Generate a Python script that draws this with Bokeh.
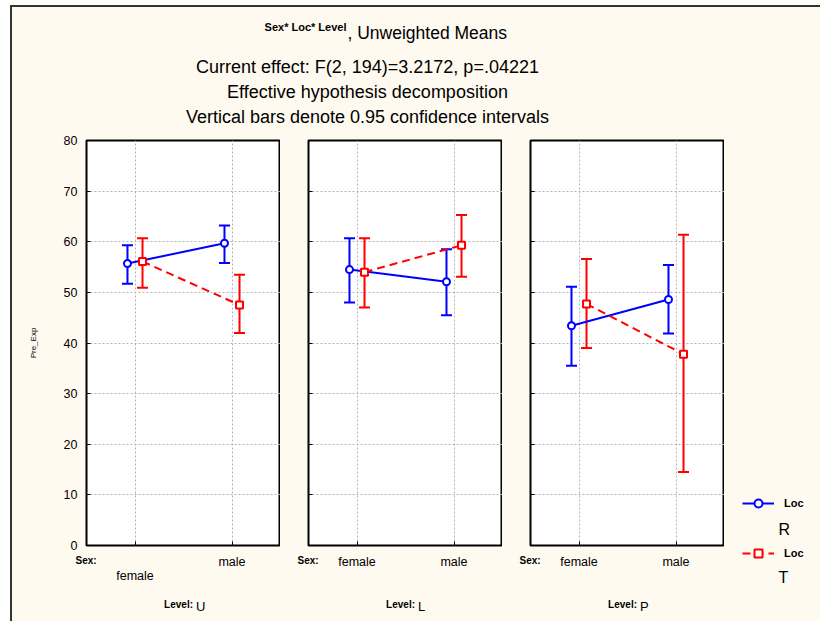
from bokeh.plotting import figure
from bokeh.models import (Range1d, ColumnDataSource, Whisker, TeeHead,
                          Label, Legend, LegendItem, FixedTicker)
from bokeh.layouts import row, column
from bokeh.transform import dodge
from bokeh.embed import file_html
from bokeh.resources import INLINE

# ---------------- data ----------------
sexes = ["female", "male"]
levels = ["U", "L", "P"]
loc_groups = ["R", "T"]
loc_r_mean = [[55.7, 59.7], [54.5, 52.1], [43.4, 48.6]]
loc_r_lower = [[51.7, 55.8], [48.0, 45.5], [35.5, 41.9]]
loc_r_upper = [[59.3, 63.2], [60.7, 58.5], [51.1, 55.4]]
loc_t_mean = [[56.1, 47.5], [54.0, 59.3], [47.7, 37.8]]
loc_t_lower = [[50.9, 42.0], [47.0, 53.1], [39.0, 14.5]]
loc_t_upper = [[60.7, 53.5], [60.7, 65.3], [56.6, 61.4]]
y_ticks = [0, 10, 20, 30, 40, 50, 60, 70, 80]
effect_name = "Sex* Loc* Level"
title_lines = [", Unweighted Means",
               "Current effect: F(2, 194)=3.2172, p=.04221",
               "Effective hypothesis decomposition",
               "Vertical bars denote 0.95 confidence intervals"]
y_label = "Pre_Exp"
factor_caption = "Sex:"
level_caption = "Level:"
legend_caption = "Loc"

# category slots on a numeric axis: female -> 1, male -> 3 (range 0..4)
sex_pos = [2 * i + 1 for i in range(len(sexes))]

# ---------------- style / layout ----------------
FONT = "Liberation Sans"
BG = "#FFFAF0"
BLUE = "#0000FF"
RED = "#FF0000"
GRID = "#b4b4b4"
X0, Y0 = 12, 7                 # page position of the content corner
TITLE_H = 121
FRAME_W = 194
FRAME_H = 405
TOP_B = 12
BOT_B = 9
PANEL_H = TOP_B + FRAME_H + BOT_B
FOOT_H = 67
LEFT_B = [74, 28, 28]
LEG_W = 96
X_MAX = 2 * len(sexes)
OFF = 0.155
LETTER_W = {"U": 0.722, "L": 0.556, "P": 0.667}   # em widths, to place the level letter

panel_w = [lb + FRAME_W for lb in LEFT_B]
frame_left = []
acc = X0
for lb, w in zip(LEFT_B, panel_w):
    frame_left.append(acc + lb)
    acc += w
PANELS_RIGHT = acc
ROW_TOP = Y0 + TITLE_H
FRAME_BOTTOM = ROW_TOP + TOP_B + FRAME_H
FOOT_TOP = ROW_TOP + PANEL_H
PAGE_BOTTOM = FOOT_TOP + FOOT_H


def canvas(w, h, x0, x1, y0, y1):
    f = figure(width=w, height=h, x_range=Range1d(x0, x1), y_range=Range1d(y1, y0),
               x_axis_location=None, y_axis_location=None, min_border=0, frame_align=False,
               output_backend="svg", toolbar_location=None,
               background_fill_color=BG, border_fill_color=BG, outline_line_color=None)
    f.xgrid.visible = False
    f.ygrid.visible = False
    return f


def label(f, x, y, text, size, bold=False, align="left", baseline="middle"):
    f.add_layout(Label(x=x, y=y, text=text, text_font=FONT, text_font_size=size,
                       text_font_style="bold" if bold else "normal", text_align=align,
                       text_baseline=baseline, text_color="black"))


# ---------------- title ----------------
tf = canvas(X0 + 808 - X0, TITLE_H, X0, X0 + 808, Y0, ROW_TOP)
label(tf, 346, 26.5, effect_name, "11px", bold=True, align="right", baseline="alphabetic")
label(tf, 347, 32, title_lines[0], "17.5px", baseline="alphabetic")
for txt, yb in zip(title_lines[1:], [66.5, 91, 116]):
    label(tf, 367, yb, txt, "18px", align="center", baseline="alphabetic")


def panel(k):
    lb = LEFT_B[k]
    p = figure(width=panel_w[k], height=PANEL_H,
               x_range=Range1d(0, X_MAX), y_range=Range1d(0, 80),
               output_backend="svg", toolbar_location=None,
               min_border_left=lb, min_border_right=0, min_border_top=TOP_B,
               min_border_bottom=BOT_B,
               background_fill_color="white", border_fill_color=BG,
               outline_line_color="black", outline_line_width=2)
    xa = p.xaxis[0]
    xa.ticker = FixedTicker(ticks=sex_pos)
    xa.axis_line_color = None
    xa.major_tick_in = 4
    xa.major_tick_out = 0
    xa.minor_tick_line_color = None
    xa.major_tick_line_color = "black"
    xa.major_label_standoff = 0
    xa.major_label_text_font_size = "1px"
    xa.major_label_text_color = None
    p.xgrid.ticker = FixedTicker(ticks=sex_pos)
    ya = p.yaxis[0]
    ya.ticker = FixedTicker(ticks=y_ticks)
    ya.axis_line_color = None
    ya.major_tick_in = 4
    ya.major_tick_out = 0
    ya.minor_tick_line_color = None
    ya.major_tick_line_color = "black"
    if k == 0:
        ya.major_label_standoff = 9
        ya.major_label_text_font = FONT
        ya.major_label_text_font_size = "12.5px"
        ya.major_label_text_color = "black"
        ya.axis_label = y_label
        ya.axis_label_standoff = 23
        ya.axis_label_text_font = FONT
        ya.axis_label_text_font_size = "8px"
        ya.axis_label_text_font_style = "normal"
        ya.axis_label_text_color = "black"
    else:
        ya.major_label_text_color = None
        ya.major_label_text_font_size = "1px"
        ya.major_label_standoff = 0
    p.ygrid.ticker = FixedTicker(ticks=y_ticks)
    for g in (p.xgrid, p.ygrid):
        g.grid_line_color = GRID
        g.grid_line_dash = "2 2"
        g.grid_line_width = 1

    series = [
        (loc_r_mean[k], loc_r_lower[k], loc_r_upper[k], BLUE, -OFF, "circle", "solid"),
        (loc_t_mean[k], loc_t_lower[k], loc_t_upper[k], RED, OFF, "square", "8 5"),
    ]
    for mean, lo, up, col, off, mk, dash in series:
        src = ColumnDataSource(dict(pos=sex_pos, sex=sexes, mean=mean, lower=lo, upper=up))
        xs = dodge("pos", off)
        w = Whisker(source=src, base=xs, upper="upper", lower="lower",
                    line_color=col, line_width=2, level="underlay",
                    upper_head=TeeHead(size=11, line_color=col, line_width=2),
                    lower_head=TeeHead(size=11, line_color=col, line_width=2))
        p.add_layout(w)
        p.line(x=xs, y="mean", source=src, line_color=col, line_width=2, line_dash=dash)
        p.scatter(x=xs, y="mean", source=src, marker=mk, size=7, fill_color="white",
                  line_color=col, line_width=2)
    return p


panels = [panel(k) for k in range(3)]

# ---------------- footer: category names and level captions ----------------
ft = canvas(PANELS_RIGHT - X0, FOOT_H, X0, PANELS_RIGHT, FOOT_TOP, PAGE_BOTTOM)
px_per_x = FRAME_W / X_MAX
for k, fl in enumerate(frame_left):
    label(ft, fl - 11, 559.5, factor_caption, "10px", bold=True)
    for i, (pos, s) in enumerate(zip(sex_pos, sexes)):
        yy = 575 if (k == 0 and i == 0) else 561
        label(ft, fl + pos * px_per_x, yy, s, "12.5px", align="center")
    label(ft, fl + 106.5, 603.5, level_caption, "10px", bold=True, align="right")
    label(ft, fl + 109.5, 606, levels[k], "13px")

# ---------------- legend column ----------------
lg = canvas(LEG_W, PANEL_H + FOOT_H, PANELS_RIGHT, PANELS_RIGHT + LEG_W, ROW_TOP, PAGE_BOTTOM)
nan = float("nan")
bl = lg.line(x=[nan], y=[nan], line_color=BLUE, line_width=2)
bp = lg.scatter(x=[nan], y=[nan], marker="circle", size=7, fill_color="white",
                line_color=BLUE, line_width=2)
rl = lg.line(x=[nan], y=[nan], line_color=RED, line_width=2, line_dash="8 5")
rp = lg.scatter(x=[nan], y=[nan], marker="square", size=7, fill_color="white",
                line_color=RED, line_width=2)
leg = Legend(items=[LegendItem(label=legend_caption, renderers=[bl, bp]),
                    LegendItem(label=legend_caption, renderers=[rl, rp])],
             location=(18, PAGE_BOTTOM - 563), orientation="vertical", spacing=30,
             padding=0, margin=0, glyph_width=32, glyph_height=20, label_height=20,
             label_width=20, label_standoff=10, label_text_font=FONT,
             label_text_font_style="bold", label_text_font_size="11px",
             label_text_color="black", border_line_color=None, background_fill_alpha=0)
lg.add_layout(leg)
for txt, yy in zip(loc_groups, [529, 577]):
    label(lg, PANELS_RIGHT + 54, yy, txt, "16px")

layout = column(tf, row(column(row(*panels), ft), lg), margin=(5, 0, 0, 10),
                styles={"border-left": "2px solid #333", "border-top": "2px solid #333",
                        "background-color": BG})

open("out.html", "w").write(file_html(layout, INLINE))
